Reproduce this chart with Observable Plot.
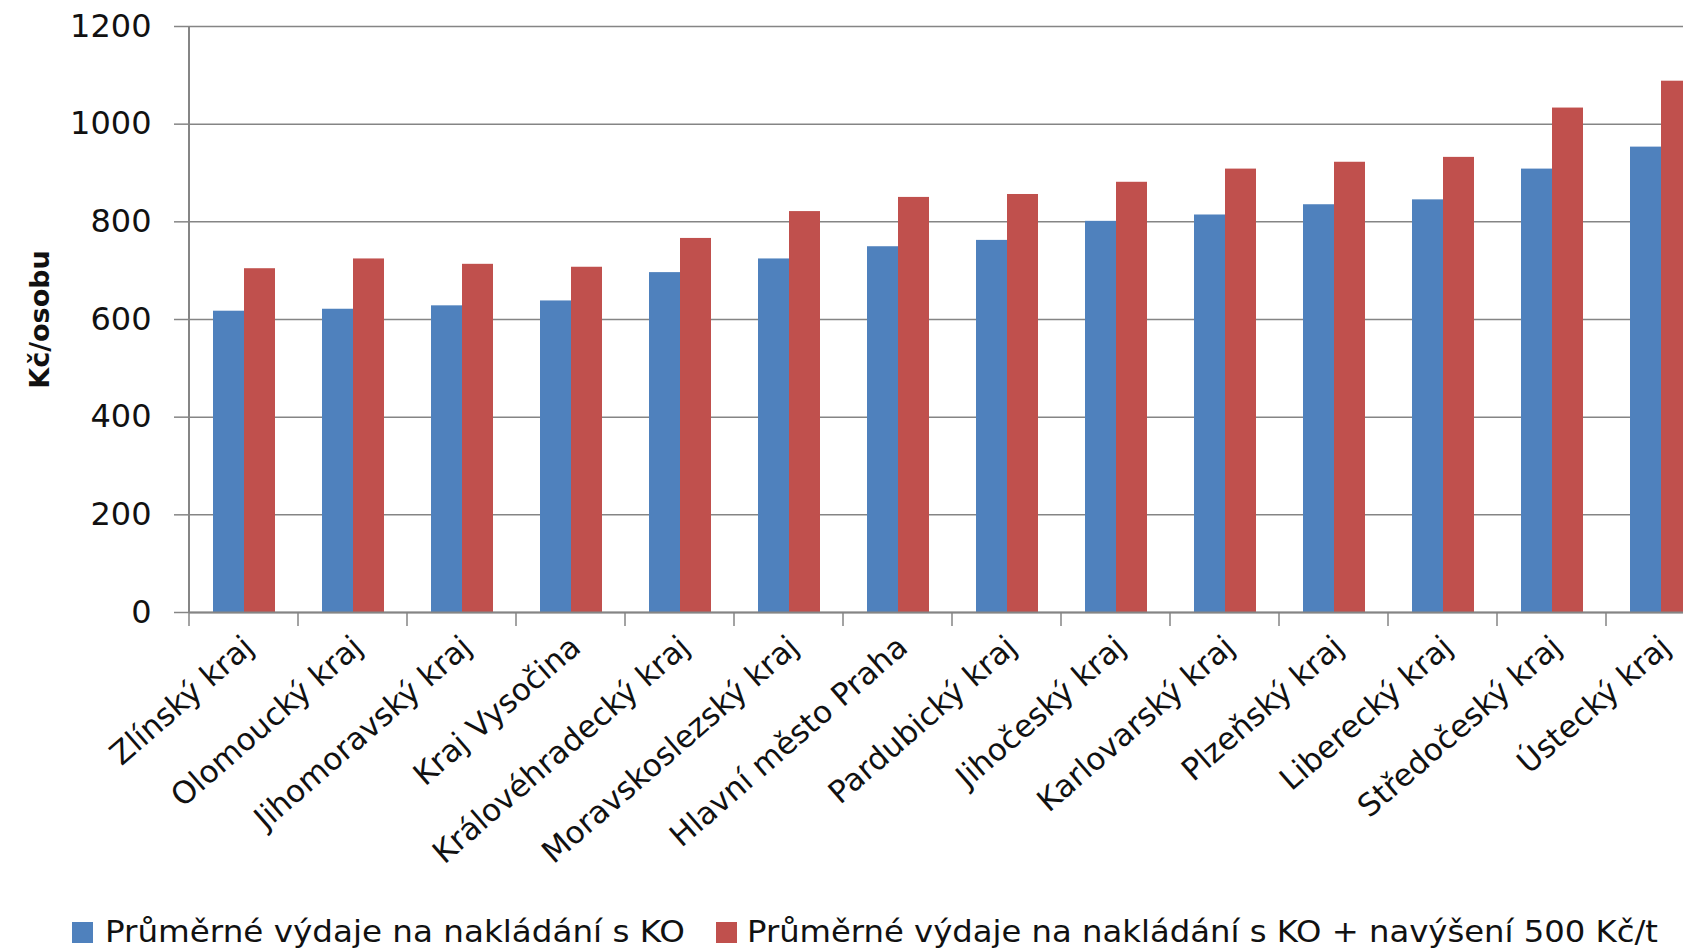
<!DOCTYPE html>
<html><head><meta charset="utf-8">
<script src="https://cdn.jsdelivr.net/npm/d3@7"></script>
<script src="https://cdn.jsdelivr.net/npm/@observablehq/plot@0.6"></script>
<style>
html,body{margin:0;padding:0;background:#fff;overflow:hidden;width:1683px;height:949px;}
#chart{position:absolute;left:0;top:0;width:1730px;}
#chart svg{max-width:none !important;}
#legend{position:absolute;left:0;top:900px;font-family:"DejaVu Sans";}
</style></head><body>
<div id="chart"></div>
<svg id="legend" width="1683" height="49"></svg>
<script>
const regions = ["Zlínský kraj","Olomoucký kraj","Jihomoravský kraj","Kraj Vysočina","Královéhradecký kraj","Moravskoslezský kraj","Hlavní město Praha","Pardubický kraj","Jihočeský kraj","Karlovarský kraj","Plzeňský kraj","Liberecký kraj","Středočeský kraj","Ústecký kraj"];
const spending = [617,621,628,638,696,724,749,762,801,814,835,845,908,953];
const spendingPlus = [704,724,713,707,766,821,850,856,881,908,922,932,1033,1088];
const seriesNames = ["Průměrné výdaje na nakládání s KO","Průměrné výdaje na nakládání s KO + navýšení 500 Kč/t"];
const seriesColors = ["#4F81BD","#C0504D"];
const yTicks = [0,200,400,600,800,1000,1200];
const yLabel = "Kč/osobu";

const data = regions.flatMap((r,i)=>[
  {region:r, series:seriesNames[0], value:spending[i]},
  {region:r, series:seriesNames[1], value:spendingPlus[i]}
]);

const grid = "#858585";
const plot = Plot.plot({
  width: 1730, height: 880,
  marginLeft: 183, marginRight: 10, marginTop: 26, marginBottom: 268,
  style: {fontFamily: "DejaVu Sans", fontSize: "32px", color: "#000", background: "#fff", overflow: "visible", maxWidth: "none"},
  fx: {domain: regions, padding: 0, label: null},
  x: {domain: seriesNames, paddingInner: 0, paddingOuter: 0.74, axis: null},
  y: {domain: [0,1200], label: null},
  color: {domain: seriesNames, range: seriesColors},
  marks: [
    Plot.gridY(yTicks, {stroke: grid, strokeOpacity: 1, strokeWidth: 1.5}),
    Plot.barY(data, {fx: "region", x: "series", y: "value", fill: "series"}),
    Plot.ruleY([0], {stroke: grid, strokeWidth: 2}),
    Plot.axisY(yTicks, {tickSize: 15, tickPadding: 23, tickFormat: d3.format("d"), stroke: grid, strokeWidth: 1.5, fill: "#111", fontSize: 32, label: null}),
    Plot.text([yLabel], {text: d => d, frameAnchor: "left", textAnchor: "middle", dx: -149, rotate: -90, fontWeight: "bold", fontSize: 27, fill: "#111", facetAnchor: "left"}),
    Plot.axisFx({anchor: "bottom", tickSize: 0, tickRotate: -41, tickPadding: 30, dx: 5, label: null, fontSize: 31, fill: "#111"})
  ]
});
document.getElementById("chart").appendChild(plot);

// category boundary ticks and vertical axis line, positioned via Plot's own scales
const fx = plot.scale("fx"), y = plot.scale("y");
const svg = d3.select(plot);
const g = svg.append("g").attr("stroke", grid).attr("stroke-width", 1.5);
const edges = regions.map(r => fx.apply(r)).concat([fx.apply(regions[regions.length-1]) + fx.bandwidth]);
g.selectAll("line.t").data(edges).join("line")
  .attr("x1", d => d).attr("x2", d => d)
  .attr("y1", y.apply(0)).attr("y2", y.apply(0) + 14);
g.append("line").attr("x1", edges[0]).attr("x2", edges[0])
  .attr("y1", y.apply(1200)).attr("y2", y.apply(0)).attr("stroke-width", 2);

// legend
const leg = d3.select("#legend");
const legX = [72, 716], legTextX = [105, 747], legLen = [580, 911];
seriesNames.forEach((s, i) => {
  leg.append("rect").attr("x", legX[i]).attr("y", 22).attr("width", 21).attr("height", 21).attr("fill", seriesColors[i]);
  leg.append("text").attr("x", legTextX[i]).attr("y", 42).attr("font-size", 31).attr("fill", "#111")
    .attr("textLength", legLen[i]).attr("lengthAdjust", "spacingAndGlyphs").text(s);
});
</script>
</body></html>
